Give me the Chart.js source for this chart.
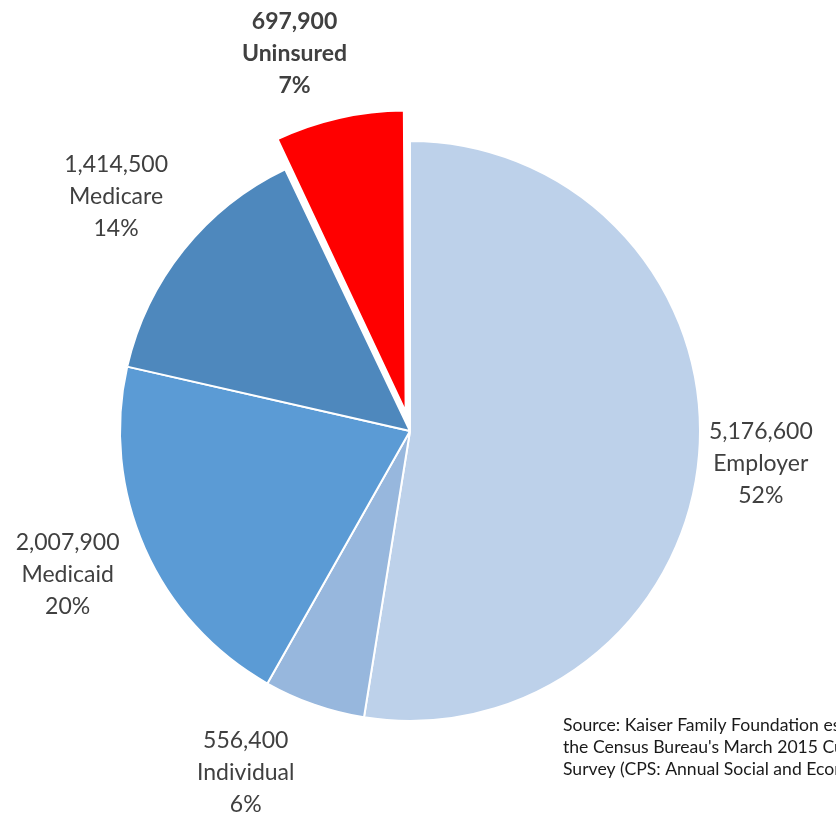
<!DOCTYPE html>
<html>
<head>
<meta charset="utf-8">
<script src="https://cdn.jsdelivr.net/npm/chart.js@4.4.1/dist/chart.umd.min.js"></script>
<style>
  html, body { margin: 0; padding: 0; background: #fff; }
  #wrap { width: 836px; height: 815px; position: relative; }
</style>
</head>
<body>
<div id="wrap"><canvas id="grafico" width="836" height="815"></canvas></div>
<script>
// datos del grafico
var categorias = ['Employer', 'Individual', 'Medicaid', 'Medicare', 'Uninsured'];
var personas = [5176600, 556400, 2007900, 1414500, 697900];
var porcentajes = ['52%', '6%', '20%', '14%', '7%'];
var colores = ['#bdd1ea', '#97b7dd', '#5b9bd5', '#4e88bd', '#ff0000'];
var fuente = [
  'Source: Kaiser Family Foundation estimates based on',
  "the Census Bureau's March 2015 Current Population",
  'Survey (CPS: Annual Social and Economic Supplements)'
];

//desplazamiento real de una porcion separada (chart.js v4 divide el offset)
function desplazamiento(arc) {
  var off = (arc.options.offset || 0) / 4;
  var circ = arc.endAngle - arc.startAngle;
  return off * (2 - Math.sin(Math.min(Math.PI, circ)));
}

//plugin para dibujar las etiquetas fuera de cada porcion
var etiquetas = {
  id: 'etiquetas',
  afterDatasetsDraw: function (chart) {
    var ctx = chart.ctx;
    var meta = chart.getDatasetMeta(0);
    // distancia y ajustes de cada etiqueta (como en el original de excel)
    var dist = 370;
    var ajuste = [[-18, 3], [-42, -8], [-4, -6], [-5, -3], [-27, 14]];
    ctx.save();
    ctx.textAlign = 'center';
    ctx.textBaseline = 'middle';
    ctx.fillStyle = '#404040';
    meta.data.forEach(function (arc, i) {
      var mid = (arc.startAngle + arc.endAngle) / 2;
      var off = desplazamiento(arc);
      var cx = arc.x + Math.cos(mid) * (dist + off) + ajuste[i][0];
      var cy = arc.y + Math.sin(mid) * (dist + off) + ajuste[i][1];
      var lineas = [personas[i].toLocaleString('en-US'), categorias[i], porcentajes[i]];
      ctx.font = (i === 4 ? 'bold ' : '') + '23px Lato';
      lineas.forEach(function (t, j) {
        ctx.fillText(t, cx, cy + (j - 1) * 32);
      });
    });
    // texto de la fuente
    ctx.textAlign = 'left';
    ctx.font = '17.6px Lato';
    ctx.fillStyle = '#1a1a1a';
    fuente.forEach(function (t, j) {
      ctx.fillText(t, 563, 725 + j * 22);
    });
    ctx.restore();
  }
};

document.addEventListener('DOMContentLoaded', () => {
  var ctx = document.getElementById('grafico').getContext('2d');
  new Chart(ctx, {
    type: 'pie',
    data: {
      labels: categorias,
      datasets: [{
        data: personas,
        backgroundColor: colores,
        borderColor: '#ffffff',
        borderWidth: 2,
        offset: [0, 0, 0, 0, 79]
      }]
    },
    options: {
      responsive: false,
      animation: false,
      events: [],
      radius: 290,
      layout: { padding: { left: 0, right: 16, top: 47, bottom: 0 } },
      plugins: {
        legend: { display: false },
        tooltip: { enabled: false }
      }
    },
    plugins: [etiquetas]
  });
});
</script>
</body>
</html>
